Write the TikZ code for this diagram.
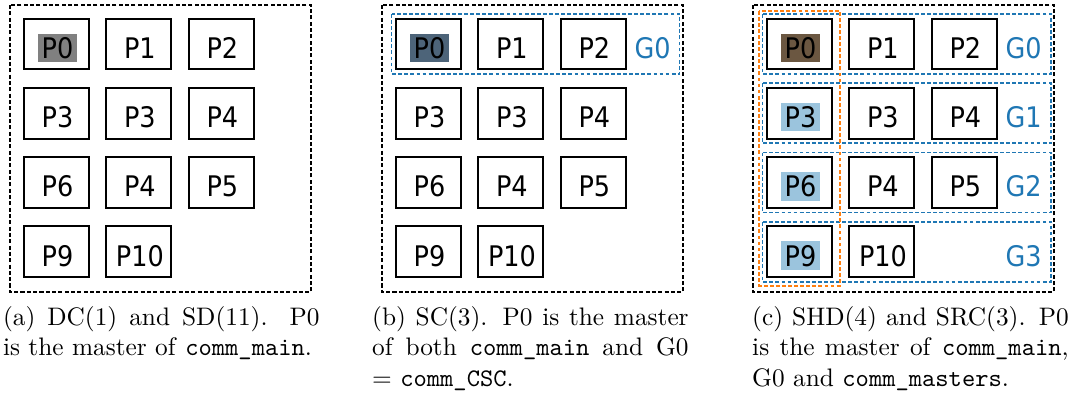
\documentclass[tikz,border=0pt]{standalone}
\usepackage{fontspec}
\newfontfamily\procfont{DejaVu Sans Condensed}
\definecolor{grpblue}{HTML}{1F77B4}
\definecolor{mstorange}{HTML}{FF7F0E}
\definecolor{hlgray}{HTML}{808080}
\definecolor{hlslate}{HTML}{4D6479}
\definecolor{hlbrown}{HTML}{6B5741}
\definecolor{hlblue}{HTML}{9BC4DD}
\begin{document}
\begin{tikzpicture}[x=0.395pt,y=-0.395pt,
  proc/.style={draw,line width=0.8pt,minimum width=25.7pt,minimum height=20.1pt,inner sep=0},
  ptext/.style={inner sep=1.4pt,xshift=0.4pt,yshift=-1.5pt,font=\procfont\fontsize{11.2}{13}\selectfont},
  frame/.style={draw,line width=0.65pt,dash pattern=on 1.6pt off 0.9pt},
  grp/.style={draw=grpblue,line width=0.7pt,dash pattern=on 1.5pt off 0.9pt},
  mst/.style={draw=mstorange,line width=0.75pt,dash pattern=on 1.5pt off 0.9pt},
  capt/.style={anchor=north west,inner sep=0,text width=125pt,align=justify,font=\fontsize{10}{12}\selectfont}]
\useasboundingbox (0,0) rectangle (1069,396);
% three panels: outer frame and the 11 processes
\foreach \p/\ox/\hm/\hc in {a/10/hlgray/none,b/382/hlslate/none,c/753/hlbrown/hlblue}{
  \draw[frame] (\ox,5) rectangle (\ox+301,292);
  \foreach \t [count=\k from 0] in {P0,P1,P2,P3,P3,P4,P6,P4,P5,P9,P10}{
    \pgfmathtruncatemacro\r{\k/3}\pgfmathtruncatemacro\c{mod(\k,3)}
    \ifnum\k=0 \def\h{\hm}\else\ifnum\c=0 \def\h{\hc}\else\def\h{none}\fi\fi
    \node[proc](\p\k)at(\ox+46.5+82.4*\c,44+69.3*\r){};
    \node[ptext,fill=\h](\p\k t)at(\p\k){\t};
  }
}
% groups
\draw[grp](382+9.5,14)rectangle(382+297.5,74);
\node[ptext,text=grpblue](bg0)at(382+269.7,44){G0};
\foreach \r in {0,...,3}{
  \draw[grp](753+9.5,14+69.3*\r)rectangle(753+298,74+69.3*\r);
  \node[ptext,text=grpblue](cg\r)at(753+269.7,44+69.3*\r){G\r};
}
\draw[mst](753+6.3,10.7)rectangle(753+87,285.7);
% captions
\node[capt](capa)at(2.5,306){(a) DC(1) and SD(11). P0\linebreak is the master of \texttt{comm\_main}.};
\node[capt](capb)at(371.7,306){(b) SC(3). P0 is the master\linebreak of both \texttt{comm\_main} and G0\linebreak $=$ \texttt{comm\_CSC}.};
\node[capt](capc)at(751.7,306){(c) SHD(4) and SRC(3). P0\linebreak is the master of \texttt{comm\_main},\linebreak G0 and \texttt{comm\_masters}.};
\end{tikzpicture}
\end{document}
